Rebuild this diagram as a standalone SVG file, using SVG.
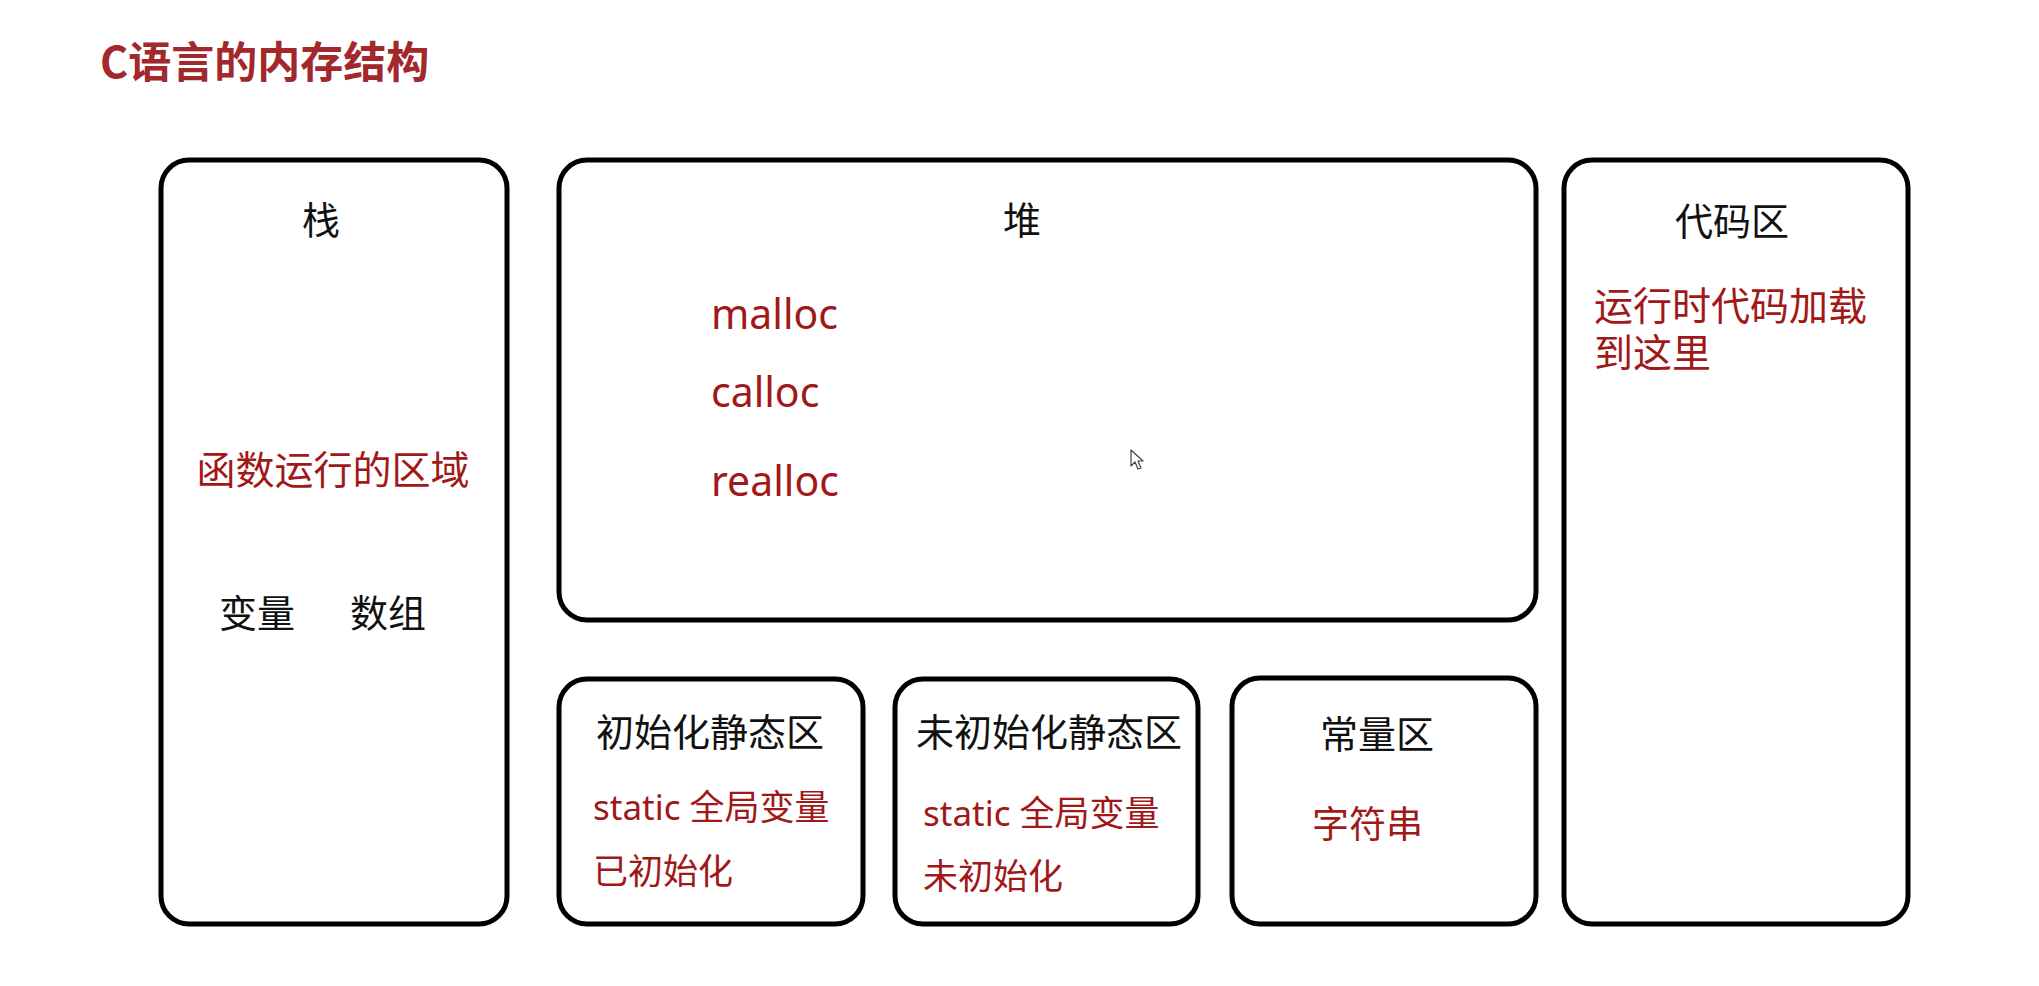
<svg xmlns="http://www.w3.org/2000/svg" width="2039" height="986" viewBox="0 0 2039 986">
<style>
.box{fill:#fff;stroke:#000;stroke-width:5}
.t{font-family:"Noto Sans CJK SC","Noto Sans",sans-serif;fill:#111}
.r{font-family:"Noto Sans","Noto Sans CJK SC",sans-serif;fill:#A01818}
.m{text-anchor:middle}
</style>
<rect width="2039" height="986" fill="#fff"/>
<text x="100" y="78" font-size="43" font-weight="bold" font-family="Noto Sans CJK SC, Noto Sans, sans-serif" fill="#A3282B">C语言的内存结构</text>
<g id="stack">
<rect class="box" x="161" y="160" width="346" height="764" rx="28"/>
<text class="t m" x="321" y="234" font-size="38">栈</text>
<text class="r m" x="333" y="484" font-size="39">函数运行的区域</text>
<text class="t" x="219" y="627" font-size="38">变量</text>
<text class="t" x="350" y="627" font-size="38">数组</text>
</g>
<g id="heap">
<rect class="box" x="559" y="160" width="977" height="460" rx="28"/>
<text class="t m" x="1022" y="234" font-size="38">堆</text>
<text class="r" x="711" y="329" font-size="41">malloc</text>
<text class="r" x="711" y="407" font-size="41">calloc</text>
<text class="r" x="711" y="496" font-size="41">realloc</text>
</g>
<g id="code">
<rect class="box" x="1564" y="160" width="344" height="764" rx="28"/>
<text class="t m" x="1732" y="235" font-size="38">代码区</text>
<text class="r" font-size="39"><tspan x="1594" y="320">运行时代码加载</tspan><tspan x="1594" y="367">到这里</tspan></text>
</g>
<g id="init-static">
<rect class="box" x="559" y="679" width="304" height="245" rx="28"/>
<text class="t m" x="710" y="746" font-size="38">初始化静态区</text>
<text class="r" x="593" y="820" font-size="35">static 全局变量</text>
<text class="r" x="593" y="884" font-size="35">已初始化</text>
</g>
<g id="uninit-static">
<rect class="box" x="895" y="679" width="303" height="245" rx="28"/>
<text class="t m" x="1049" y="746" font-size="38">未初始化静态区</text>
<text class="r" x="923" y="826" font-size="35">static 全局变量</text>
<text class="r" x="923" y="889" font-size="35">未初始化</text>
</g>
<g id="const">
<rect class="box" x="1232" y="678" width="304" height="246" rx="28"/>
<text class="t m" x="1377" y="748" font-size="38">常量区</text>
<text class="r" x="1312" y="838" font-size="37">字符串</text>
</g>
<g id="connectors"></g>
<polygon points="1131,450 1131,466 1135,462 1138,469 1141,468 1138,461 1143,461" fill="#fff" stroke="#444" stroke-width="1.2" stroke-linejoin="round"/>
</svg>
